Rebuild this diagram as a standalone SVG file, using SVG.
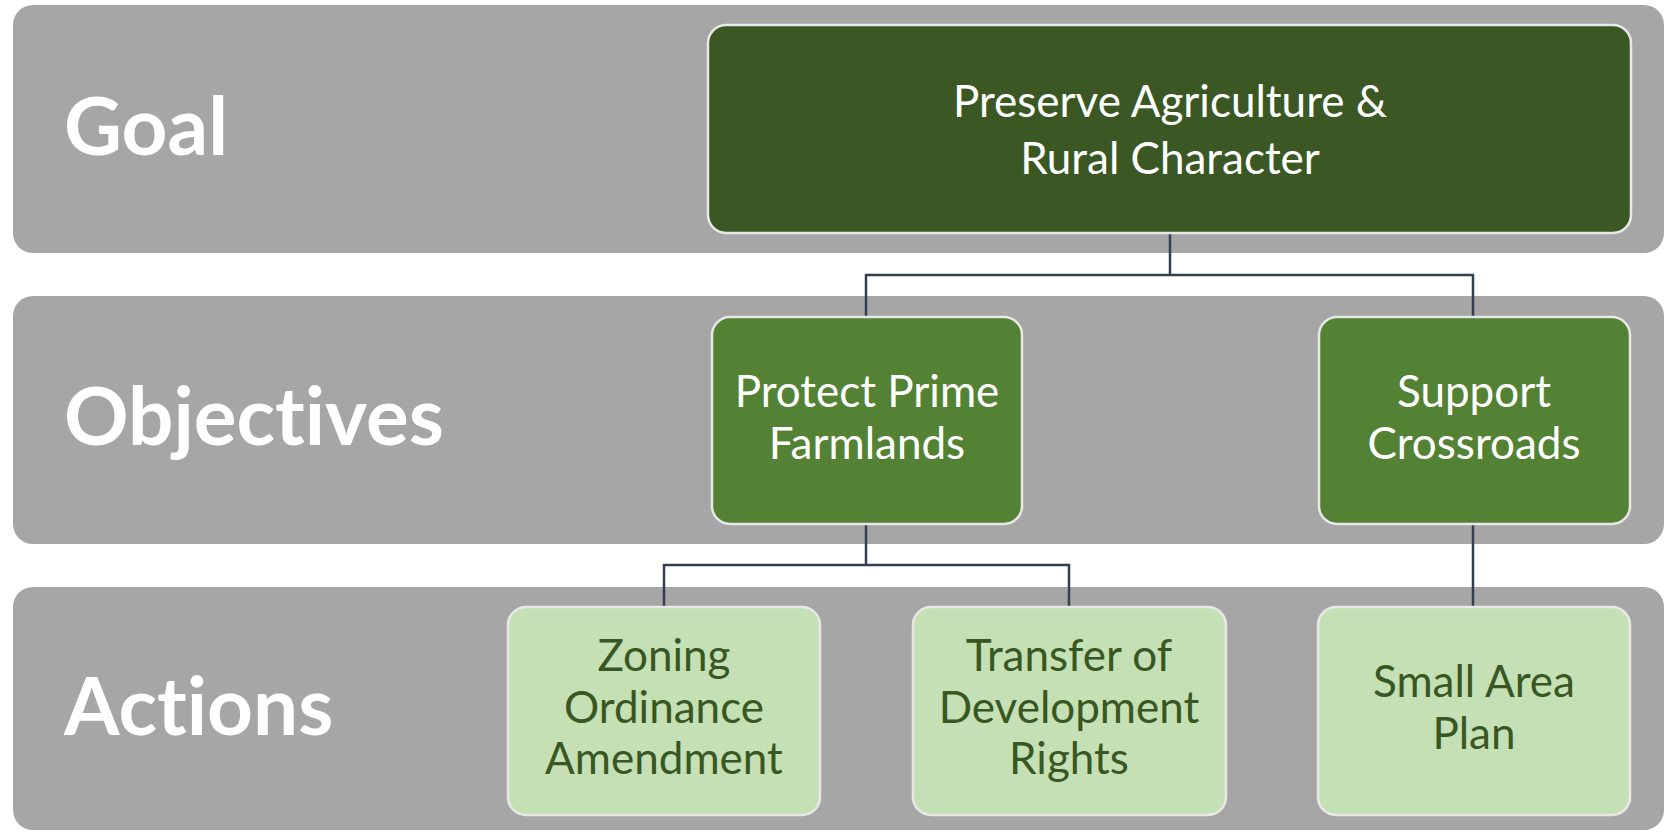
<svg xmlns="http://www.w3.org/2000/svg" width="1669" height="832" viewBox="0 0 1669 832">
  <style>
    text { font-variant-ligatures: none; }
    .band { fill: #a6a6a6; }
    .band-label { font-family: Lato, "Open Sans", "Liberation Sans", sans-serif; font-weight: 700; font-size: 80px; fill: #ffffff; }
    .node rect { stroke: #e8e8e8; stroke-width: 2.5; }
    .goal rect { fill: #3b5824; }
    .objective rect { fill: #548235; }
    .action rect { fill: #c5e0b4; }
    .node text { font-family: Lato, "Open Sans", "Liberation Sans", sans-serif; font-size: 44px; text-anchor: middle; }
    .goal text, .objective text { fill: #ffffff; }
    .action text { fill: #385723; }
    .connectors path { fill: none; stroke: #333f50; stroke-width: 2.5; }
  </style>

  <!-- Tier bands -->
  <g id="band-goal">
    <rect class="band" x="13" y="5" width="1651" height="248" rx="20" ry="20"/>
    <text class="band-label" x="64" y="155">Goal</text>
  </g>
  <g id="band-objectives">
    <rect class="band" x="13" y="296" width="1651" height="248" rx="20" ry="20"/>
    <text class="band-label" x="64" y="445">Objectives</text>
  </g>
  <g id="band-actions">
    <rect class="band" x="13" y="587" width="1651" height="243" rx="20" ry="20"/>
    <text class="band-label" x="64" y="735">Actions</text>
  </g>

  <!-- Connectors -->
  <g id="connectors" class="connectors">
    <path d="M1170 233 V275"/>
    <path d="M866 317 V275 H1473 V317"/>
    <path d="M866 524 V565"/>
    <path d="M664 607 V565 H1069 V607"/>
    <path d="M1473 524 V607"/>
  </g>

  <!-- Goal -->
  <g id="goal-preserve" class="node goal">
    <rect x="708" y="25" width="923" height="208" rx="18" ry="18"/>
    <text x="1170" y="117">Preserve Agriculture &amp;</text>
    <text x="1170" y="174">Rural Character</text>
  </g>

  <!-- Objectives -->
  <g id="obj-protect" class="node objective">
    <rect x="712" y="317" width="310" height="207" rx="18" ry="18"/>
    <text x="867" y="407">Protect Prime</text>
    <text x="867" y="459">Farmlands</text>
  </g>
  <g id="obj-support" class="node objective">
    <rect x="1319" y="317" width="311" height="207" rx="18" ry="18"/>
    <text x="1474" y="407">Support</text>
    <text x="1474" y="459">Crossroads</text>
  </g>

  <!-- Actions -->
  <g id="act-zoning" class="node action">
    <rect x="508" y="607" width="312" height="208" rx="18" ry="18"/>
    <text x="664" y="671">Zoning</text>
    <text x="664" y="723">Ordinance</text>
    <text x="664" y="774">Amendment</text>
  </g>
  <g id="act-tdr" class="node action">
    <rect x="913" y="607" width="313" height="208" rx="18" ry="18"/>
    <text x="1069" y="671">Transfer of</text>
    <text x="1069" y="723">Development</text>
    <text x="1069" y="774">Rights</text>
  </g>
  <g id="act-small-area" class="node action">
    <rect x="1318" y="607" width="312" height="208" rx="18" ry="18"/>
    <text x="1474" y="697">Small Area</text>
    <text x="1474" y="749">Plan</text>
  </g>
</svg>
